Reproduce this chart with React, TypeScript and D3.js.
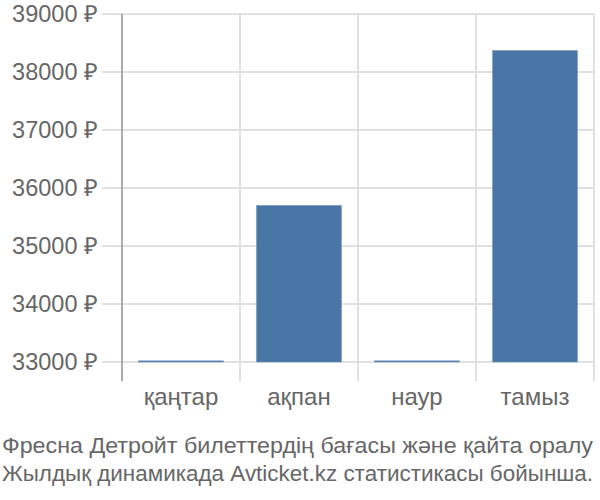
import React from "react";
import * as d3 from "d3";

const categories = ["қаңтар", "ақпан", "наур", "тамыз"];
const prices = [33020, 35700, 33020, 38370];
const yTicks = [33000, 34000, 35000, 36000, 37000, 38000, 39000];
const footerLines = [
  "Фресна Детройт билеттердің бағасы және қайта оралу",
  "Жылдық динамикада Avticket.kz статистикасы бойынша.",
];

const FONT = "'Liberation Sans', Arial, sans-serif";

export default function App() {
  const x = d3
    .scaleBand<string>()
    .domain(categories)
    .range([122, 594])
    .paddingInner(0.28)
    .paddingOuter(0.14);
  const y = d3.scaleLinear().domain([33000, 39000]).range([362, 14]);
  const step = x.step();
  const bounds = categories.map((_, i) => 122 + i * step).concat([594]);

  return (
    <svg
      width={600}
      height={500}
      style={{ position: "absolute", left: 0, top: 0, background: "#fff" }}
      fontFamily={FONT}
    >
      {yTicks.map((t) => (
        <g key={t}>
          <line x1={102} x2={594} y1={y(t)} y2={y(t)} stroke="#e0e0e0" strokeWidth={2} />
          <text x={98} y={y(t)} dy="0.35em" textAnchor="end" fontSize={23.5} fill="#666">
            {t} ₽
          </text>
        </g>
      ))}
      {bounds.map((b, i) => (
        <line
          key={i}
          x1={b}
          x2={b}
          y1={14}
          y2={381}
          stroke={i === 0 ? "#aaa" : "#e0e0e0"}
          strokeWidth={2}
        />
      ))}
      {categories.map((c, i) => (
        <rect
          key={c}
          x={x(c)}
          y={y(prices[i])}
          width={x.bandwidth()}
          height={Math.max(1, y(33000) - y(prices[i]))}
          fill="#4a76a6"
          stroke="#6f93bd"
          strokeWidth={0.5}
        />
      ))}
      {categories.map((c) => (
        <text
          key={c}
          x={(x(c) as number) + x.bandwidth() / 2}
          y={405}
          textAnchor="middle"
          fontSize={24}
          fill="#666"
        >
          {c}
        </text>
      ))}
      {footerLines.map((l, i) => (
        <text
          key={i}
          x={2}
          y={453 + i * 28}
          fontSize={22.5}
          fill="#666"
          textLength={591}
          lengthAdjust="spacingAndGlyphs"
        >
          {l}
        </text>
      ))}
    </svg>
  );
}
